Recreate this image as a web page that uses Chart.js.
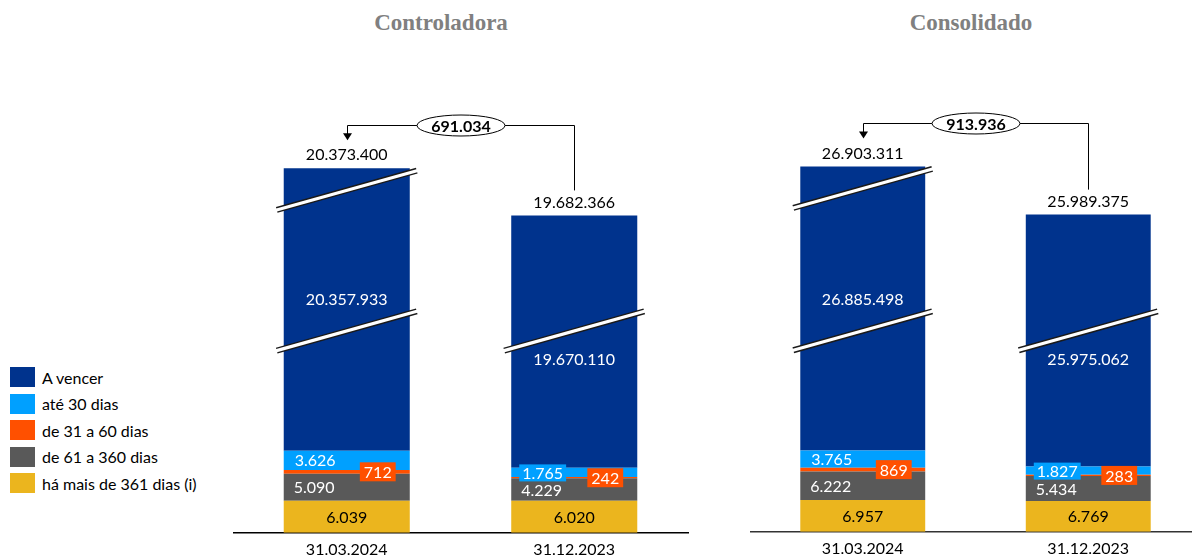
<!DOCTYPE html>
<html lang="pt-BR">
<head>
<meta charset="utf-8">
<script src="https://cdn.jsdelivr.net/npm/chart.js@4.4.1/dist/chart.umd.min.js"></script>
<style>
  html, body { margin: 0; padding: 0; background: #fff; }
  body { width: 1192px; height: 555px; overflow: hidden; position: relative; font-family: Lato, sans-serif; }
  .title { position: absolute; top: 11px; font: bold 23px/23px "Liberation Serif", serif; color: #808080; transform: translateX(-50%); white-space: nowrap; }
  .box { position: absolute; top: 0; }
  #legend { position: absolute; left: 10px; top: 367px; }
  .item { display: flex; align-items: center; height: 20px; margin-bottom: 6.5px; font-size: 16px; color: #000; white-space: nowrap; }
  .sw { width: 25px; height: 20px; margin-right: 7px; }
</style>
</head>
<body>
<div class="title" style="left:441px">Controladora</div>
<div class="title" style="left:971px">Consolidado</div>
<div id="legend"></div>
<div class="box" style="left:233px; width:470px; height:566px;"><canvas id="ctrl"></canvas></div>
<div class="box" style="left:750px; width:460px; height:565px;"><canvas id="cons"></canvas></div>

<script>
// categories and series (bottom of the stack first)
const categories = ['31.03.2024', '31.12.2023'];
const seriesNames = ['há mais de 361 dias (i)', 'de 61 a 360 dias', 'de 31 a 60 dias', 'até 30 dias', 'A vencer'];

// Controladora
const ctrlMais361 = [6039, 6020];
const ctrlDe61a360 = [5090, 4229];
const ctrlDe31a60 = [712, 242];
const ctrlAte30 = [3626, 1765];
const ctrlAVencer = [20357933, 19670110];

// Consolidado
const consMais361 = [6957, 6769];
const consDe61a360 = [6222, 5434];
const consDe31a60 = [869, 283];
const consAte30 = [3765, 1827];
const consAVencer = [26885498, 25975062];

const colors = ['#EBB51E', '#595959', '#FF5000', '#00A0FF', '#00338D'];

function fmt(n) {
    return String(n).replace(/\B(?=(\d{3})+(?!\d))/g, '.');
}

// legend (top of the stack first)
const legend = document.getElementById('legend');
for (let i = seriesNames.length - 1; i >= 0; i--) {
    const row = document.createElement('div');
    row.className = 'item';
    row.innerHTML = `<span class="sw" style="background:${colors[i]}"></span>${seriesNames[i]}`;
    legend.appendChild(row);
}

// linear scale with a broken axis: piecewise mapping value -> axis fraction
class BrokenScale extends Chart.LinearScale {
    getPixelForValue(value) {
        const b = this.options.breaks;
        let d = 0;
        for (let i = 1; i < b.length; i++) {
            if (value <= b[i][0] || i === b.length - 1) {
                d = b[i - 1][1] + (value - b[i - 1][0]) / (b[i][0] - b[i - 1][0]) * (b[i][1] - b[i - 1][1]);
                break;
            }
        }
        return this.getPixelForDecimal(d);
    }
    getValueForPixel(pixel) {
        const b = this.options.breaks;
        const d = this.getDecimalForPixel(pixel);
        for (let i = 1; i < b.length; i++) {
            if (d <= b[i][1] || i === b.length - 1) {
                return b[i - 1][0] + (d - b[i - 1][1]) / (b[i][1] - b[i - 1][1]) * (b[i][0] - b[i - 1][0]);
            }
        }
        return 0;
    }
}
BrokenScale.id = 'broken';
BrokenScale.defaults = Chart.LinearScale.defaults;
Chart.register(BrokenScale);

Chart.defaults.font.family = 'Lato, sans-serif';
Chart.defaults.font.size = 16;
Chart.defaults.color = '#000';

function drawBreak(ctx, left, right, yc) {
    const x0 = left - 7, x1 = right + 7;
    const half = (x1 - x0) * 0.14;
    ctx.save();
    ctx.lineCap = 'butt';
    ctx.strokeStyle = '#1a1a1a';
    ctx.lineWidth = 6;
    ctx.beginPath();
    ctx.moveTo(x0, yc + half);
    ctx.lineTo(x1, yc - half);
    ctx.stroke();
    ctx.strokeStyle = '#fff';
    ctx.lineWidth = 3.2;
    ctx.beginPath();
    ctx.moveTo(x0 - 1, yc + half + 0.3);
    ctx.lineTo(x1 + 1, yc - half - 0.3);
    ctx.stroke();
    ctx.restore();
}

const stackLabels = {
    id: 'stackLabels',
    afterDatasetsDraw(chart) {
        const ctx = chart.ctx;
        const yScale = chart.scales.y;
        const b = yScale.options.breaks;
        const breakY = yScale.getPixelForDecimal((b[1][1] + b[2][1]) / 2);
        const metas = chart.data.datasets.map((d, i) => chart.getDatasetMeta(i));
        const totals = chart.data.labels.map((_, j) =>
            chart.data.datasets.reduce((s, d) => s + d.data[j], 0));
        const tallest = totals.indexOf(Math.max(...totals));
        const other = tallest === 0 ? 1 : 0;

        ctx.save();
        ctx.textBaseline = 'middle';
        ctx.font = '16px Lato';

        chart.data.labels.forEach((_, j) => {
            const els = metas.map(m => m.data[j]);
            const vals = chart.data.datasets.map(d => d.data[j]);
            const left = els[0].x - els[0].width / 2;
            const right = els[0].x + els[0].width / 2;
            const mid = el => (el.y + el.base) / 2;

            drawBreak(ctx, left, right, breakY);
            if (j === tallest) drawBreak(ctx, left, right, els[4].y + 22);

            // há mais de 361 dias
            ctx.textAlign = 'center';
            ctx.fillStyle = '#000';
            ctx.fillText(fmt(vals[0]), els[0].x, mid(els[0]) + 1);

            // de 61 a 360 dias
            ctx.textAlign = 'left';
            ctx.fillStyle = '#fff';
            ctx.fillText(fmt(vals[1]), left + 10, mid(els[1]) + 1);

            // até 30 dias
            const t3 = fmt(vals[3]);
            const w3 = ctx.measureText(t3).width;
            if (els[3].base - els[3].y < 17) {
                ctx.fillStyle = colors[3];
                ctx.fillRect(left + 8, mid(els[3]) - 8, w3 + 6, 17);
            }
            ctx.fillStyle = '#fff';
            ctx.fillText(t3, left + 11, mid(els[3]) + 1);

            // de 31 a 60 dias
            const t2 = fmt(vals[2]);
            const w2 = ctx.measureText(t2).width;
            const cx2 = els[0].x + 31, cy2 = mid(els[2]);
            ctx.fillStyle = colors[2];
            ctx.fillRect(cx2 - w2 / 2 - 4, cy2 - 9.5, w2 + 8, 19);
            ctx.textAlign = 'center';
            ctx.fillStyle = '#fff';
            ctx.fillText(t2, cx2, cy2 + 1);

            // A vencer
            ctx.fillText(fmt(vals[4]), els[4].x, j === tallest ? breakY - 31 : breakY + 29);

            // total above the bar
            ctx.fillStyle = '#000';
            ctx.fillText(fmt(totals[j]), els[4].x, els[4].y - 13);
        });

        // difference callout
        const topA = metas[4].data[tallest];
        const topB = metas[4].data[other];
        const xa = Math.round(topA.x) + 0.5, xb = Math.round(topB.x) + 0.5;
        const hy = Math.round(topA.y - 43) + 0.5;
        ctx.strokeStyle = '#000';
        ctx.lineWidth = 1;
        ctx.beginPath();
        ctx.moveTo(xb, topB.y - 25);
        ctx.lineTo(xb, hy);
        ctx.lineTo(xa, hy);
        ctx.lineTo(xa, topA.y - 34);
        ctx.stroke();
        ctx.fillStyle = '#000';
        ctx.beginPath();
        ctx.moveTo(xa - 4.5, topA.y - 35);
        ctx.lineTo(xa + 4.5, topA.y - 35);
        ctx.lineTo(xa, topA.y - 28);
        ctx.closePath();
        ctx.fill();

        const ex = (xa + xb) / 2;
        ctx.fillStyle = '#fff';
        ctx.beginPath();
        ctx.ellipse(ex, hy, 44, 10.5, 0, 0, Math.PI * 2);
        ctx.fill();
        ctx.stroke();
        ctx.fillStyle = '#000';
        ctx.font = 'bold 16px Lato';
        ctx.textAlign = 'center';
        ctx.fillText(fmt(totals[tallest] - totals[other]), ex, hy + 1);
        ctx.restore();
    }
};

function makeChart(id, series, breaks, opts) {
    return new Chart(document.getElementById(id), {
        type: 'bar',
        data: {
            labels: categories,
            datasets: series.map((data, i) => ({
                label: seriesNames[i],
                data: data,
                backgroundColor: colors[i],
                borderWidth: 0,
                categoryPercentage: 1,
                barPercentage: 0.554
            }))
        },
        options: {
            responsive: true,
            maintainAspectRatio: false,
            animation: false,
            layout: { padding: { top: 60, right: opts.padRight, left: 0, bottom: 0 } },
            plugins: { legend: { display: false }, tooltip: { enabled: false } },
            scales: {
                x: {
                    stacked: true,
                    grid: { display: false, drawTicks: false },
                    border: { display: true, color: opts.axisColor, width: 1.5 },
                    ticks: { padding: opts.tickPad, color: '#000', font: { size: 16 } }
                },
                y: {
                    type: 'broken',
                    stacked: true,
                    display: false,
                    beginAtZero: true,
                    breaks: breaks
                }
            }
        },
        plugins: [stackLabels]
    });
}

makeChart('ctrl',
    [ctrlMais361, ctrlDe61a360, ctrlDe31a60, ctrlAte30, ctrlAVencer],
    [[0, 0], [25000, 0.2808], [19000000, 0.5729], [21000000, 0.8612]],
    { padRight: 15, axisColor: '#000', tickPad: 7 });

makeChart('cons',
    [consMais361, consDe61a360, consDe31a60, consAte30, consAVencer],
    [[0, 0], [30000, 0.2904], [25000000, 0.5617], [28000000, 0.8970]],
    { padRight: 9, axisColor: '#333', tickPad: 7 });
</script>
</body>
</html>
